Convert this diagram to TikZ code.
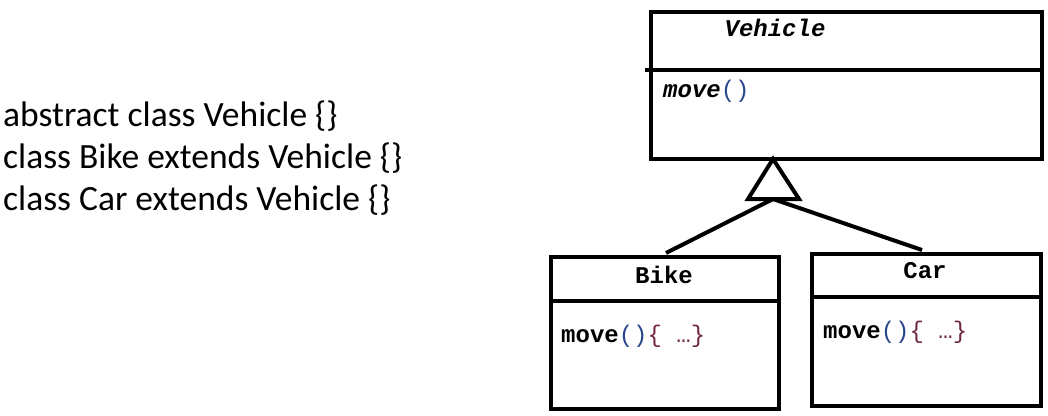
\documentclass[tikz,border=0pt]{standalone}
\usepackage{fontspec}
\setmainfont{Carlito}
\newfontfamily\codefont{Liberation Mono}
\definecolor{parcol}{RGB}{40,70,140}
\definecolor{bracecol}{RGB}{112,40,70}
\newcommand{\parpart}{\textcolor{parcol}{\mdseries\upshape()}}
\newcommand{\bracepart}{\textcolor{bracecol}{\mdseries\{ …\}}}
\begin{document}
\begin{tikzpicture}[x=1pt,y=-1pt,
  umlbox/.style={draw=black,line width=4pt,rectangle,anchor=north west,inner sep=0pt},
  divider/.style={line width=4pt},
  link/.style={line width=4pt},
  codetxt/.style={inner sep=0pt,font=\codefont\fontsize{24}{28}\selectfont\bfseries},
  plain/.style={inner sep=0pt,anchor=base west,font=\fontsize{35.5}{42}\selectfont}]
\useasboundingbox (0,0) rectangle (1048,415);
% left text
\node[plain] (t1) at (3,126) {abstract class Vehicle \{\}};
\node[plain] (t2) at (3,168) {class Bike extends Vehicle \{\}};
\node[plain] (t3) at (3,210) {class Car extends Vehicle \{\}};
% Vehicle
\node[umlbox,minimum width=391pt,minimum height=147pt] (veh) at (649,10) {};
\draw[divider] (645,70) -- (veh.east |- 0,70);
\node[codetxt,anchor=base] (vehname) at (775,36) {\itshape Vehicle};
\node[codetxt,anchor=base west] (vehop) at (663,97) {\itshape move\parpart};
% Bike
\node[umlbox,minimum width=228pt,minimum height=152pt] (bike) at (549,255) {};
\draw[divider] (bike.west |- 0,301) -- (bike.east |- 0,301);
\node[codetxt,anchor=base] (bikename) at (664,283) {Bike};
\node[codetxt,anchor=base west] (bikeop) at (561,342) {move\parpart\bracepart};
% Car
\node[umlbox,minimum width=229pt,minimum height=152pt] (car) at (810,252) {};
\draw[divider] (car.west |- 0,297) -- (car.east |- 0,297);
\node[codetxt,anchor=base] (carname) at (925,278) {Car};
\node[codetxt,anchor=base west] (carop) at (823,338) {move\parpart\bracepart};
% generalization
\coordinate (apex) at (773,159);
\coordinate (tribase) at (773,199);
\draw[link,line join=miter] (apex) -- (748,199) -- (799,199) -- cycle;
\coordinate (bikeend) at (666,253);
\coordinate (carend) at (922,250);
\draw[link] (tribase) -- (bikeend);
\draw[link] (tribase) -- (carend);
\end{tikzpicture}
\end{document}
